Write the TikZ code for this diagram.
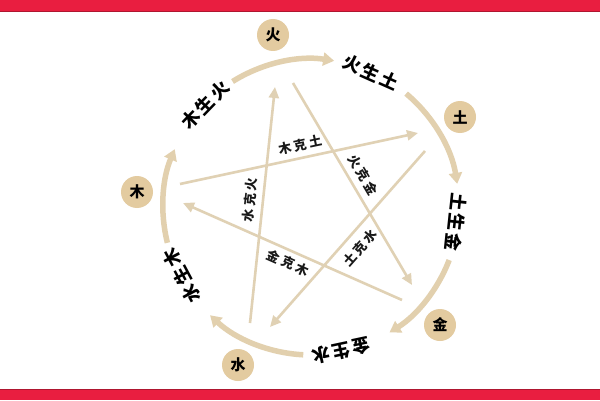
\documentclass[tikz,border=0pt]{standalone}
\usepackage{fontspec}
\setmainfont{Noto Sans CJK SC}
\usetikzlibrary{arrows.meta}
\definecolor{redbar}{RGB}{233,30,64}
\definecolor{nodefill}{RGB}{227,203,160}
\definecolor{arcc}{RGB}{226,208,174}
\definecolor{starc}{RGB}{224,209,180}
\newcommand\spacedthree[3]{#1\kern2.5pt#2\kern2.5pt#3}
\begin{document}
\begin{tikzpicture}[x=1pt,y=1pt,
  elem/.style={circle,fill=nodefill,minimum size=32pt,inner sep=0pt,font=\fontsize{15}{15}\selectfont\bfseries},
  genarc/.style={draw=arcc,line width=5.5pt,-{Triangle[length=11pt,width=13pt]}},
  ctrl/.style={draw=starc,line width=2.6pt,-{Triangle[length=11pt,width=10pt]}},
  genlabel/.style={font=\fontsize{18}{18}\selectfont\bfseries,text=black,inner sep=0pt},
  ctrllabel/.style={font=\fontsize{13}{13}\selectfont\bfseries,text=black!90,inner sep=0pt}]
\useasboundingbox (0,0) rectangle (600,400);
\fill[white] (0,0) rectangle (600,400);
\fill[redbar] (0,389) rectangle (600,400);
\fill[redbar] (0,0) rectangle (600,11);
\draw[redbar!75!black,line width=0.6pt] (0,389) -- (600,389);
\draw[redbar!75!black,line width=0.6pt] (0,11) -- (600,11);

\coordinate (o) at (311,193);

% element nodes
\node[elem] (huo)  at (273,365) {火};
\node[elem] (tu)   at (460,283) {土};
\node[elem] (jin)  at (440,75)  {金};
\node[elem] (shui) at (238,35)  {水};
\node[elem] (mu)   at (137,208) {木};

% generating cycle arcs
\draw[genarc] ([shift={(122:148)}]o) arc[start angle=122,end angle=81,radius=148];
\draw[genarc] ([shift={(50:148)}]o) arc[start angle=50,end angle=9,radius=148];
\draw[genarc] ([shift={(-21:148)}]o) arc[start angle=-21,end angle=-58,radius=148];
\draw[genarc] ([shift={(-93:148)}]o) arc[start angle=-93,end angle=-133,radius=148];
\draw[genarc] ([shift={(-166:148)}]o) arc[start angle=-166,end angle=-203,radius=148];

% generating labels
\node[genlabel,rotate=46]   (g1) at ([shift={(136:147)}]o) {\spacedthree{木}{生}{火}};
\node[genlabel,rotate=-24]  (g2) at ([shift={(66:147)}]o)  {\spacedthree{火}{生}{土}};
\node[genlabel,rotate=-96]  (g3) at ([shift={(-6:146)}]o)  {\spacedthree{土}{生}{金}};
\node[genlabel,rotate=-168] (g4) at ([shift={(-78:147)}]o) {\spacedthree{金}{生}{水}};
\node[genlabel,rotate=118]  (g5) at ([shift={(-152:146)}]o) {\spacedthree{水}{生}{木}};

% controlling star
\coordinate (k1s) at (180,216); \coordinate (k1e) at (418,267);
\coordinate (k2s) at (293,317); \coordinate (k2e) at (412,115);
\coordinate (k3s) at (425,249); \coordinate (k3e) at (270,73);
\coordinate (k4s) at (402,100); \coordinate (k4e) at (183,197);
\coordinate (k5s) at (250,77);  \coordinate (k5e) at (275,313);
\draw[ctrl] (k1s) -- (k1e);
\draw[ctrl] (k2s) -- (k2e);
\draw[ctrl] (k3s) -- (k3e);
\draw[ctrl] (k4s) -- (k4e);
\draw[ctrl] (k5s) -- (k5e);

\node[ctrllabel,rotate=12]    (c1) at (300,255) {\spacedthree{木}{克}{土}};
\node[ctrllabel,rotate=-59.5] (c2) at (363,225) {\spacedthree{火}{克}{金}};
\node[ctrllabel,rotate=48.6]  (c3) at (360,152) {\spacedthree{土}{克}{水}};
\node[ctrllabel,rotate=-24]   (c4) at (288,137) {\spacedthree{金}{克}{木}};
\node[ctrllabel,rotate=84]    (c5) at (250,200) {\spacedthree{水}{克}{火}};
\end{tikzpicture}
\end{document}
